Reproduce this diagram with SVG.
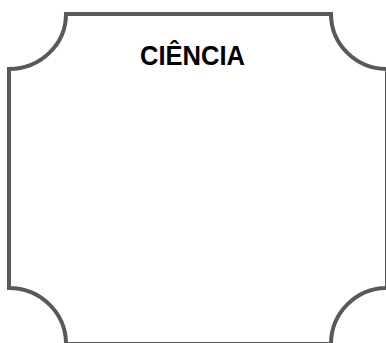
<svg xmlns="http://www.w3.org/2000/svg" width="386" height="343" viewBox="0 0 386 343">
<style>
.frame{fill:#ffffff;stroke:#595959;stroke-width:4;stroke-linejoin:miter}
.title{font-family:"Liberation Sans",Arial,sans-serif;font-weight:bold;font-size:27px;fill:#000000}
</style>
<rect width="386" height="343" fill="#ffffff"/>
<g id="node-ciencia">
<path class="frame" d="M66,14 L331,14 A56,55 0 0 0 387,69 L387,288 A56,56 0 0 0 331,344 L66,344 A57,56 0 0 0 9,288 L9,69 A57,55 0 0 0 66,14 Z"/>
<text class="title" x="192.5" y="65" text-anchor="middle" textLength="105" lengthAdjust="spacingAndGlyphs">CIÊNCIA</text>
</g>
<g id="connectors"/>
</svg>
